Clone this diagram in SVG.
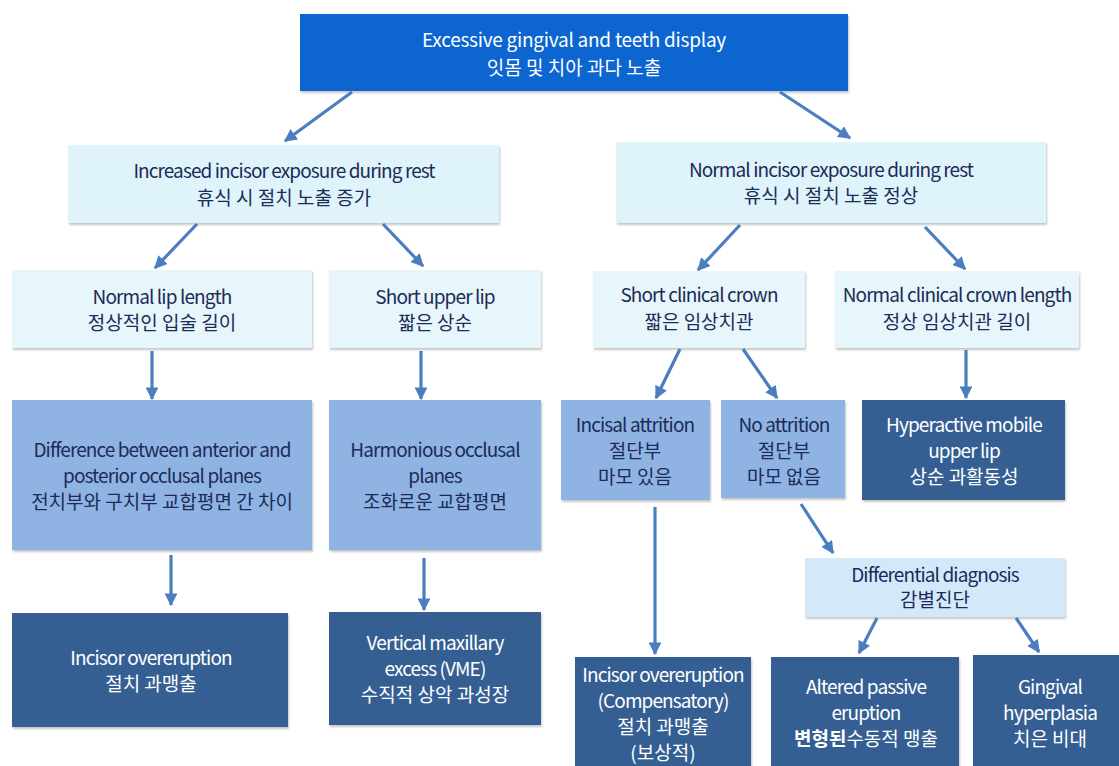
<svg xmlns="http://www.w3.org/2000/svg" width="1119" height="766" viewBox="0 0 1119 766">
<style>
text{font-family:"Noto Sans CJK KR","Noto Sans",sans-serif;font-size:19px;text-anchor:middle;letter-spacing:0px}
.e{letter-spacing:-0.9px}
.et{letter-spacing:-0.25px}
.d{fill:#1c2b57}
.w{fill:#ffffff}
.top{fill:#0b66cf}
.l2{fill:#dff3fa}
.l3{fill:#e7f6fb}
.mid{fill:#8fb4e3}
.dk{fill:#365f93}
.dd{fill:#d3e9f9}
.box{filter:url(#sh)}
.c line{stroke:#4a7ebf;stroke-width:3.2;marker-end:url(#ah)}
</style>
<defs>
<filter id="sh" x="-5%" y="-5%" width="110%" height="120%">
<feDropShadow dx="1" dy="2" stdDeviation="1" flood-color="#808080" flood-opacity="0.45"/>
</filter>
<marker id="ah" viewBox="0 0 10 10" refX="9" refY="5" markerWidth="4" markerHeight="4" orient="auto">
<path d="M0,0 L10,5 L0,10 z" fill="#4a7ebf"/>
</marker>
</defs>
<rect width="1119" height="766" fill="#ffffff"/>
<g id="n0"><rect class="box top" x="300" y="14" width="548" height="77"/><text class="w"><tspan class="et" x="574" y="47">Excessive gingival and teeth display</tspan><tspan x="574" y="75">잇몸 및 치아 과다 노출</tspan></text></g>
<g id="n1"><rect class="box l2" x="68" y="145" width="431" height="78"/><text class="d"><tspan class="e" x="284" y="178">Increased incisor exposure during rest</tspan><tspan x="284" y="205">휴식 시 절치 노출 증가</tspan></text></g>
<g id="n2"><rect class="box l2" x="616" y="142" width="430" height="81"/><text class="d"><tspan class="e" x="831" y="177">Normal incisor exposure during rest</tspan><tspan x="831" y="203">휴식 시 절치 노출 정상</tspan></text></g>
<g id="n3"><rect class="box l3" x="12" y="270" width="300" height="78"/><text class="d"><tspan class="e" x="162" y="304">Normal lip length</tspan><tspan x="162" y="330">정상적인 입술 길이</tspan></text></g>
<g id="n4"><rect class="box l3" x="329" y="270" width="212" height="78"/><text class="d"><tspan class="e" x="435" y="304">Short upper lip</tspan><tspan x="435" y="330">짧은 상순</tspan></text></g>
<g id="n5"><rect class="box l3" x="593" y="271" width="212" height="77"/><text class="d"><tspan class="e" x="699" y="302">Short clinical crown</tspan><tspan x="699" y="329">짧은 임상치관</tspan></text></g>
<g id="n6"><rect class="box l3" x="835" y="271" width="244" height="77"/><text class="d"><tspan class="e" x="957" y="302">Normal clinical crown length</tspan><tspan x="957" y="329">정상 임상치관 길이</tspan></text></g>
<g id="n7"><rect class="box mid" x="12" y="400" width="300" height="150"/><text class="d"><tspan class="e" x="162" y="457">Difference between anterior and</tspan><tspan class="e" x="162" y="483">posterior occlusal planes</tspan><tspan x="162" y="509">전치부와 구치부 교합평면 간 차이</tspan></text></g>
<g id="n8"><rect class="box mid" x="329" y="400" width="212" height="150"/><text class="d"><tspan class="e" x="435" y="457">Harmonious occlusal</tspan><tspan class="e" x="435" y="483">planes</tspan><tspan x="435" y="509">조화로운 교합평면</tspan></text></g>
<g id="n9"><rect class="box mid" x="561" y="400" width="149" height="100"/><text class="d"><tspan class="e" x="635" y="432">Incisal  attrition</tspan><tspan x="635" y="458">절단부</tspan><tspan x="635" y="484">마모 있음</tspan></text></g>
<g id="n10"><rect class="box mid" x="721" y="400" width="124" height="98"/><text class="d"><tspan class="e" x="784" y="432">No attrition</tspan><tspan x="784" y="458">절단부</tspan><tspan x="784" y="484">마모 없음</tspan></text></g>
<g id="n11"><rect class="box dk" x="862" y="400" width="203" height="100"/><text class="w"><tspan class="e" x="964" y="432">Hyperactive mobile</tspan><tspan class="e" x="964" y="458">upper lip</tspan><tspan x="964" y="484">상순 과활동성</tspan></text></g>
<g id="n12"><rect class="box dd" x="805" y="558" width="260" height="59"/><text class="d"><tspan class="e" x="935" y="582">Differential diagnosis</tspan><tspan x="935" y="607">감별진단</tspan></text></g>
<g id="n13"><rect class="box dk" x="12" y="613" width="276" height="114"/><text class="w"><tspan class="e" x="151" y="665">Incisor overeruption</tspan><tspan x="151" y="691">절치 과맹출</tspan></text></g>
<g id="n14"><rect class="box dk" x="329" y="612" width="212" height="113"/><text class="w"><tspan class="e" x="435" y="650">Vertical maxillary</tspan><tspan class="e" x="435" y="676">excess (VME)</tspan><tspan x="435" y="702">수직적 상악 과성장</tspan></text></g>
<g id="n15"><rect class="box dk" x="575" y="657" width="176" height="115"/><text class="w"><tspan class="e" x="663" y="682">Incisor overeruption</tspan><tspan class="e" x="663" y="708">(Compensatory)</tspan><tspan x="663" y="734">절치 과맹출</tspan><tspan x="663" y="760">(보상적)</tspan></text></g>
<g id="n16"><rect class="box dk" x="771" y="657" width="188" height="115"/><text class="w"><tspan class="e" x="866" y="694">Altered passive</tspan><tspan class="e" x="866" y="720">eruption</tspan><tspan x="866" y="746"><tspan font-weight="bold">변형된</tspan>수동적 맹출</tspan></text></g>
<g id="n17"><rect class="box dk" x="973" y="655" width="150" height="117"/><text class="w"><tspan class="e" x="1050" y="694">Gingival</tspan><tspan class="e" x="1050" y="720">hyperplasia</tspan><tspan x="1050" y="746">치은 비대</tspan></text></g>
<g id="connectors" class="c">
<line x1="352" y1="92" x2="285" y2="141"/>
<line x1="780" y1="92" x2="850" y2="138"/>
<line x1="197" y1="224" x2="155" y2="268"/>
<line x1="383" y1="224" x2="423" y2="266"/>
<line x1="740" y1="225" x2="698" y2="270"/>
<line x1="925" y1="227" x2="965" y2="269"/>
<line x1="152" y1="351" x2="152" y2="399"/>
<line x1="421" y1="351" x2="421" y2="399"/>
<line x1="680" y1="349" x2="656" y2="398"/>
<line x1="743" y1="349" x2="777" y2="398"/>
<line x1="966" y1="350" x2="966" y2="398"/>
<line x1="171" y1="555" x2="171" y2="605"/>
<line x1="424" y1="558" x2="424" y2="610"/>
<line x1="655" y1="507" x2="655" y2="654"/>
<line x1="801" y1="504" x2="833" y2="553"/>
<line x1="877" y1="618" x2="859" y2="653"/>
<line x1="1016" y1="618" x2="1039" y2="652"/>
</g>
</svg>
